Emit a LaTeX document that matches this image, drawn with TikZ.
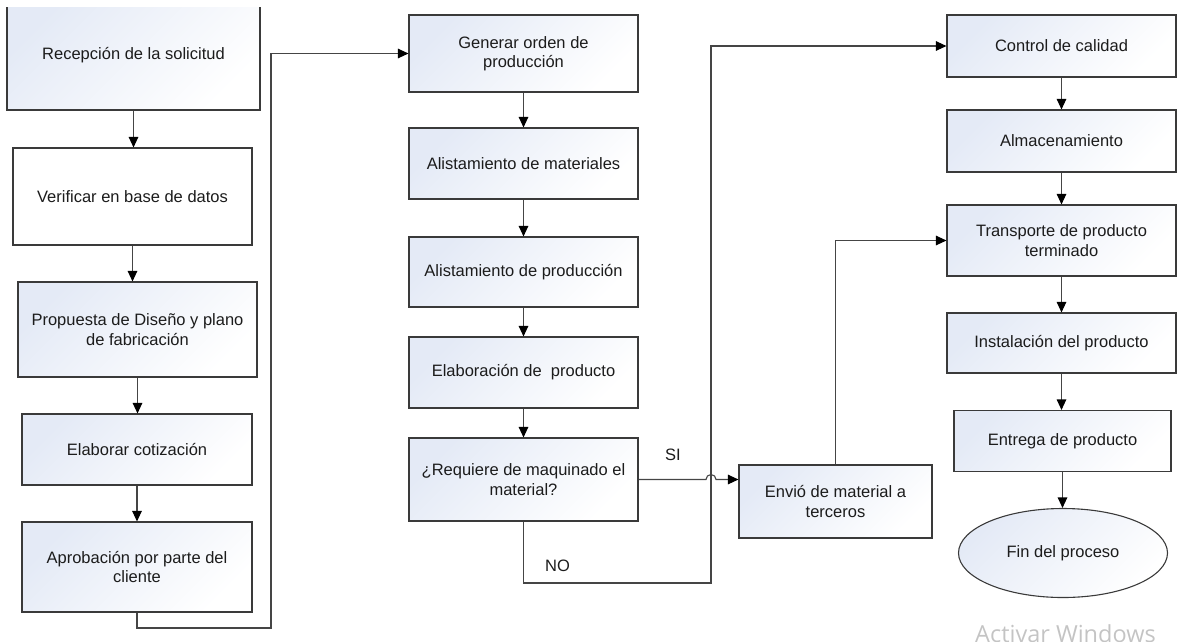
\documentclass[tikz,border=0pt]{standalone}
\usepackage{fontspec}
\setmainfont{Liberation Sans}
\newfontfamily\wmfont{Open Sans}
\usetikzlibrary{arrows.meta,shapes.geometric}
\definecolor{boxline}{HTML}{3A3A3A}
\definecolor{wire}{HTML}{454545}
\definecolor{tint}{HTML}{E4EAF6}
\definecolor{txt}{HTML}{1C1C1C}
\definecolor{wm}{HTML}{C4C4C4}
\begin{document}
\begin{tikzpicture}[x=1pt,y=-1pt,
  proc/.style={draw=boxline, line width=1.1pt, top color=tint, bottom color=white,
    shading angle=45, align=center, text=txt, inner sep=0pt,
    font=\fontsize{16.5}{19.5}\selectfont},
  plain/.style={draw=boxline, line width=1.1pt, fill=white, align=center, text=txt,
    inner sep=0pt, font=\fontsize{16.5}{19.5}\selectfont},
  sz/.style 2 args={minimum width=#1, minimum height=#2},
  flow/.style={draw=wire, line width=1.1pt, -{Triangle[length=10.5pt,width=9.5pt,color=black]}},
  link/.style={draw=wire, line width=1.1pt},
  tag/.style={text=txt, font=\fontsize{16.5}{19.5}\selectfont, inner sep=0pt}]
\clip (0,0) rectangle (1178,641);
\useasboundingbox (0,0) rectangle (1178,641);

% first column
\node[proc, sz={253}{110}] (rec) at (133.5,55) {Recepción de la solicitud};
\fill[white] (3,-2) rectangle (264,7);
\node[plain, sz={239}{97}] (ver) at (132.5,196.5) {Verificar en base de datos};
\node[proc, sz={239}{95}] (prop) at (137.5,329.5) {Propuesta de Diseño y plano\\de fabricación};
\node[proc, sz={230}{71}] (cot) at (137,449.5) {Elaborar cotización};
\node[proc, sz={230}{90}] (apr) at (137,567) {Aprobación por parte del\\cliente};

% second column
\node[proc, sz={229}{77}] (gen) at (523.5,53.5) {Generar orden de\\producción};
\node[proc, sz={229}{71}] (mat) at (523.5,163.5) {Alistamiento de materiales};
\node[proc, sz={229}{70}] (pro) at (523.5,272) {Alistamiento de producción};
\node[proc, sz={229}{71}] (ela) at (523.5,372.5) {Elaboración de~ producto};
\node[proc, sz={229}{83}] (req) at (523.5,479.5) {¿Requiere de maquinado el\\material?};

% subcontracting
\node[proc, sz={193}{73}] (env) at (835.5,501.5) {Envió de material a\\terceros};

% third column
\node[proc, sz={229}{62}] (ctl) at (1061.5,46) {Control de calidad};
\node[proc, sz={229}{62}] (alm) at (1061.5,141) {Almacenamiento};
\node[proc, sz={229}{71}] (tra) at (1061.5,240.5) {Transporte de producto\\terminado};
\node[proc, sz={229}{60}] (ins) at (1061.5,343) {Instalación del producto};
\node[proc, sz={217}{61}] (ent) at (1062.5,441) {Entrega de producto};
\node[proc, ellipse, sz={209}{89}] (fin) at (1063,553) {Fin del proceso};

% routing points
\coordinate (aprlow) at (271,628);
\coordinate (nolow) at (711,583);

% straight arrows
\foreach \a/\b in {rec/ver, ver/prop, prop/cot, cot/apr,
                   gen/mat, mat/pro, pro/ela, ela/req,
                   ctl/alm, alm/tra, tra/ins, ins/ent, ent/fin}
  \draw[flow] (\a.south) -- (\a.south |- \b.north);

% approval leads to the production order
\draw[flow] (apr.south) |- (aprlow) |- (gen.west);

% NO branch goes straight to quality control
\draw[flow] (req.south) |- (nolow) |- (ctl.west);
\node[tag, anchor=base west] (no) at (545,571) {NO};

% SI branch hops over the NO line
\draw[flow] (req.east) -- (706,479.5) arc[start angle=180, end angle=360, radius=5]
  -- (env.west |- req.east);
\node[tag, anchor=base west] (si) at (665,460) {SI};

% back from the subcontractor to transport
\draw[flow] (env.north) |- (tra.west);

% watermark
\node[anchor=base west, inner sep=0pt, text=wm, font=\wmfont\fontsize{23.5}{26}\selectfont] (wmk) at (975,642) {Activar Windows};
\end{tikzpicture}
\end{document}
